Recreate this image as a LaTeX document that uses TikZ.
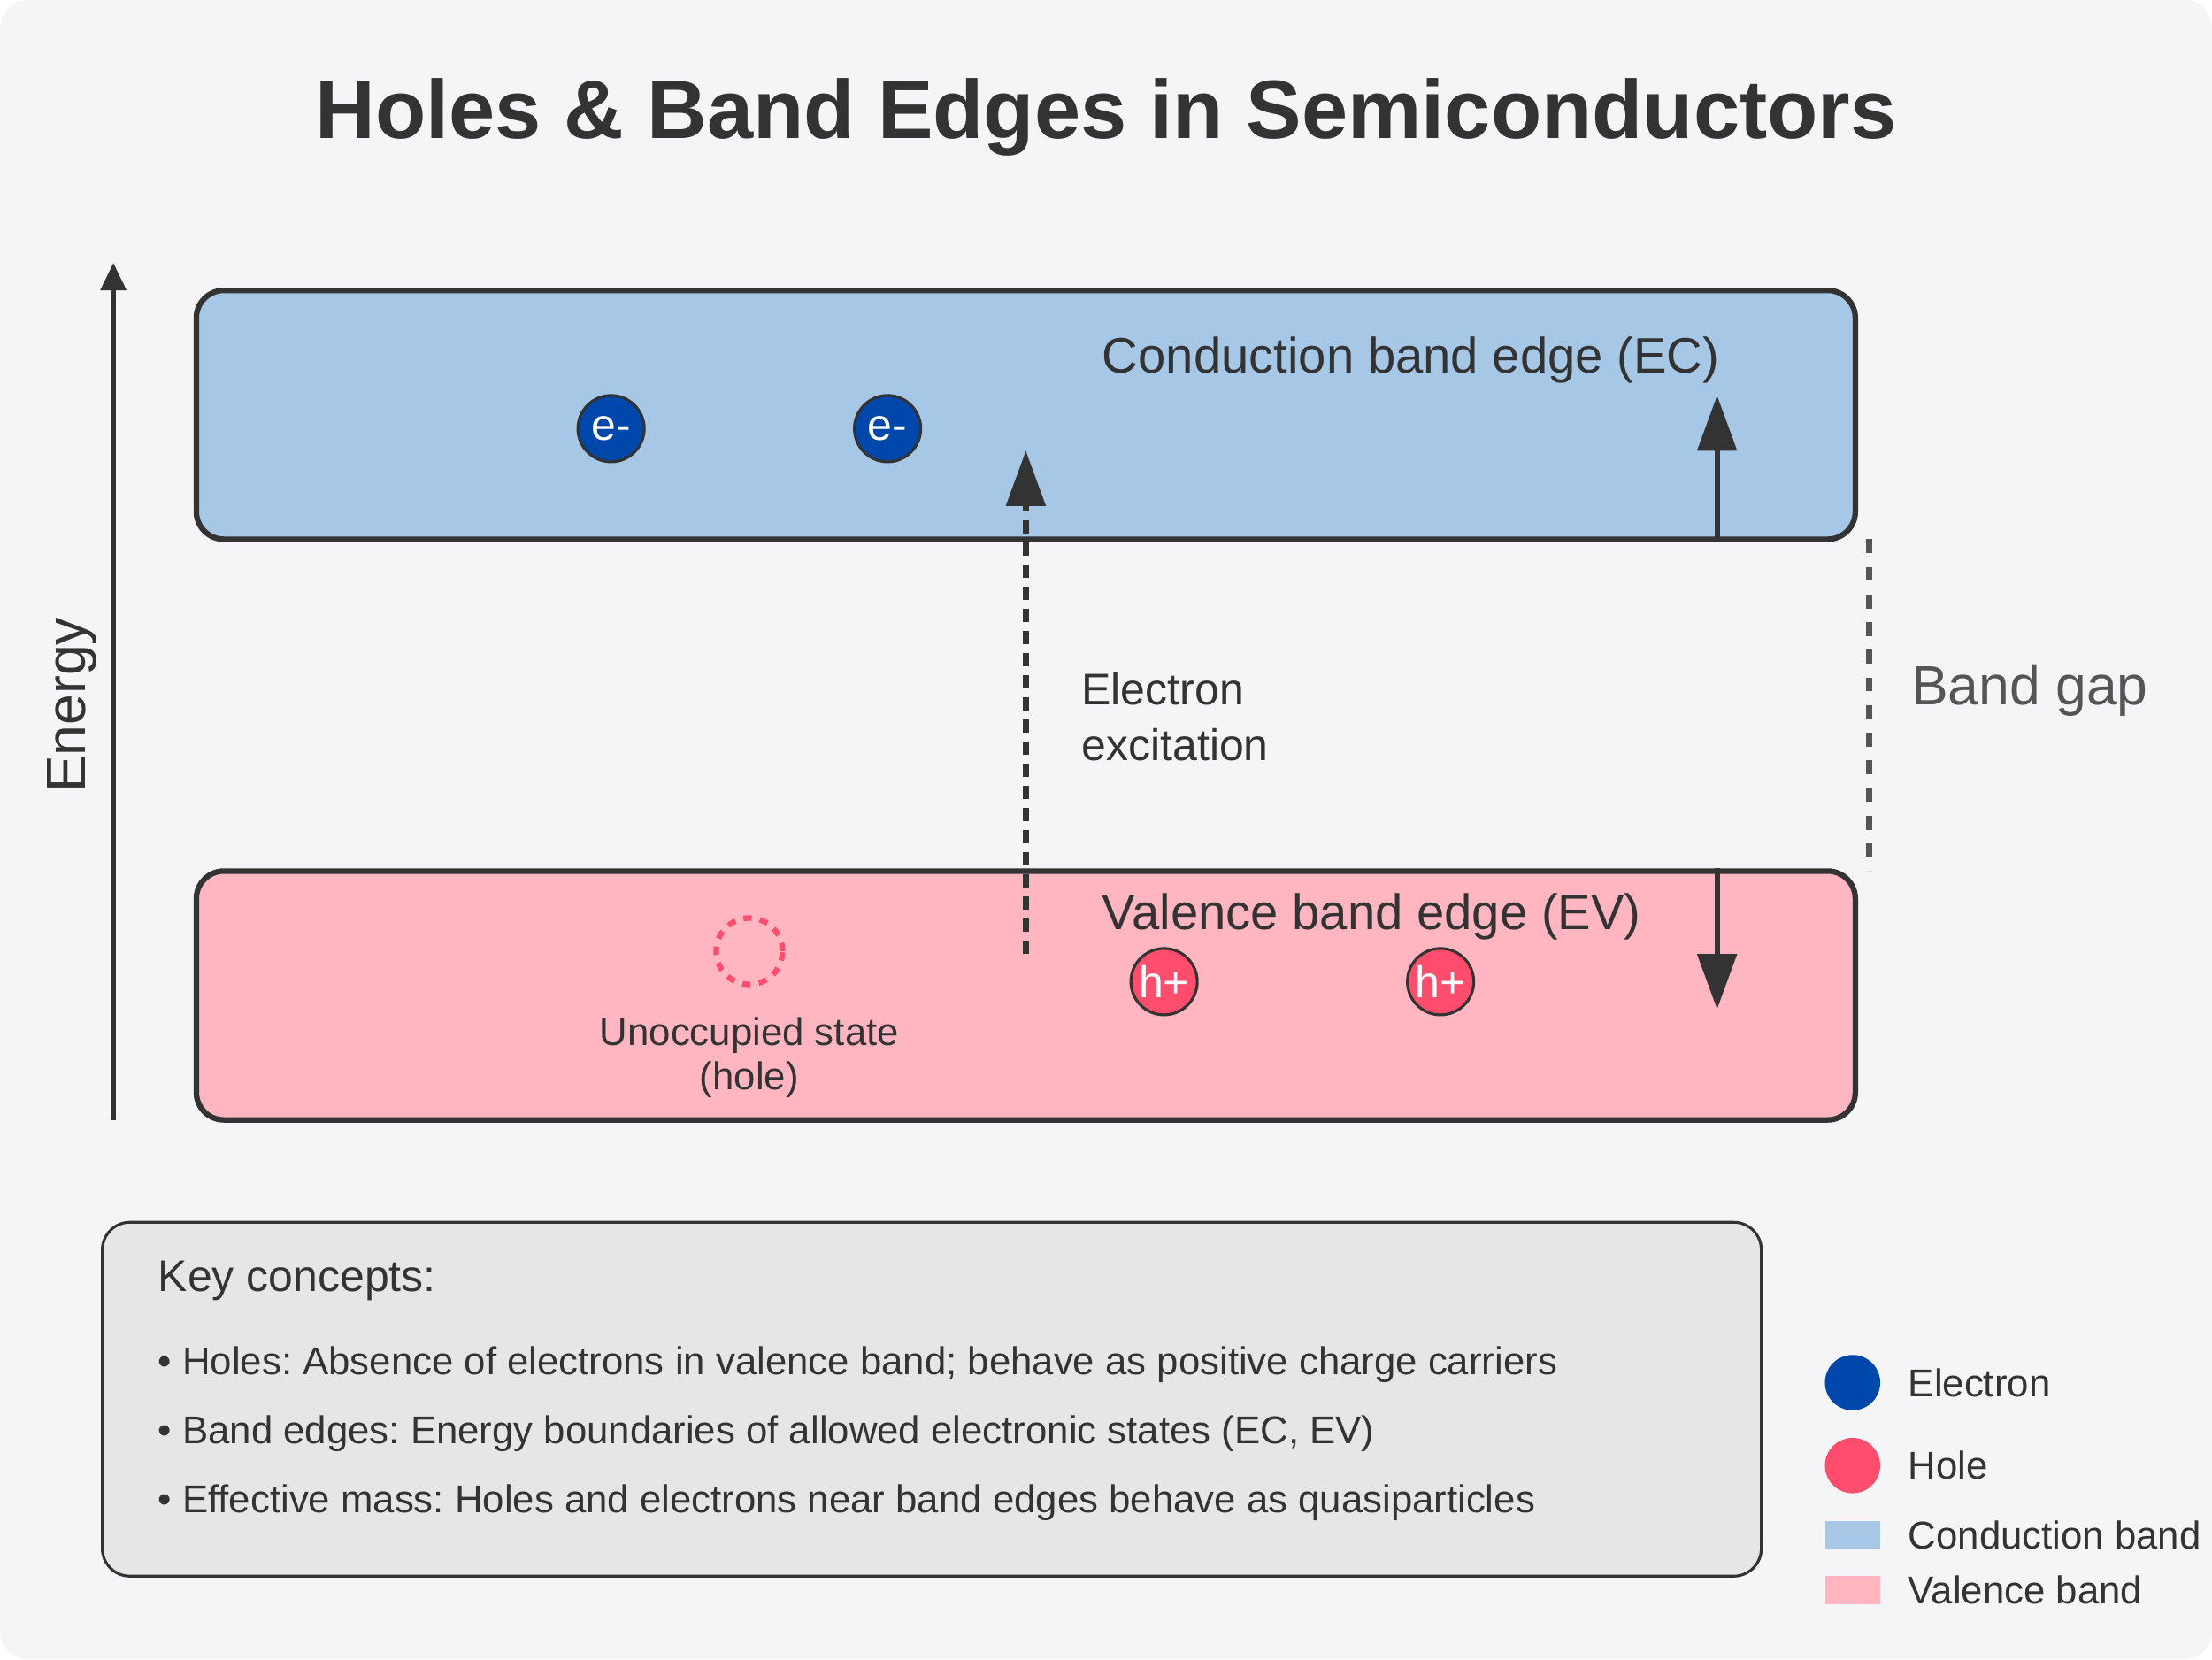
\documentclass[tikz,border=0pt]{standalone}
\usepackage{fontspec}
\setmainfont{Liberation Sans}
\usepackage{tikz}
\usetikzlibrary{arrows.meta, positioning}
\frenchspacing
\definecolor{ink}{HTML}{333333}
\definecolor{gapgray}{HTML}{555555}
\definecolor{pagebg}{HTML}{F5F5F7}
\definecolor{cbfill}{HTML}{A6C8E6}
\definecolor{vbfill}{HTML}{FFB6C1}
\definecolor{keyfill}{HTML}{E6E6E6}
\definecolor{electronblue}{HTML}{0047AB}
\definecolor{holered}{HTML}{FF4D6D}
\newcommand{\fsz}[2]{\fontsize{#1pt}{#2pt}\selectfont}
\tikzset{
  band/.style={
    draw=ink, line width=2pt, rounded corners=10pt,
    minimum width=600pt, minimum height=90pt, inner sep=0pt
  },
  band label/.style={anchor=base west, inner sep=0pt, text=ink, font=\fsz{18}{22}},
  plain text/.style={anchor=base west, inner sep=0pt, text=ink},
  carrier/.style={
    circle, draw=ink, line width=1pt, minimum size=24pt,
    inner sep=0pt, text=white, font=\fsz{16}{18}
  },
  electron/.style={carrier, fill=electronblue},
  hole/.style={carrier, fill=holered},
  big arrow/.style={draw=ink, line width=2pt, -{Triangle[length=20pt, width=14pt]}},
  legend dot/.style={circle, minimum size=20pt, inner sep=0pt},
  legend swatch/.style={minimum width=20pt, minimum height=10pt, inner sep=0pt},
}

\begin{document}
\begin{tikzpicture}[x=1pt, y=-1pt]
  % Page
  \useasboundingbox (0,0) rectangle (800,600);
  \fill[pagebg, rounded corners=10pt] (0,0) rectangle (800,600);

  % Title
  \node[anchor=base, inner sep=0pt, text=ink, font=\bfseries\fsz{30}{36}] (title) at (400,50)
    {Holes \& Band Edges in Semiconductors};

  % Energy axis
  \coordinate (eaxbot) at (41,405);
  \coordinate (eaxtop) at (41,95);
  \draw[ink, line width=2pt, -{Triangle[length=10pt, width=9pt]}] (eaxbot) -- (eaxtop);
  \node[rotate=90, anchor=base, inner sep=0pt, text=ink, font=\fsz{20}{24}] (energy) at (31,255) {Energy};

  % Bands
  \node[band, fill=cbfill] (cb) at (371,150) {};
  \node[band, fill=vbfill] (vb) at (371,360) {};
  \node[band label] (cblabel) at (398.5,135) {Conduction band edge (EC)};
  \node[band label] (vblabel) at (398.5,336) {Valence band edge (EV)};

  % Electrons
  \node[electron] (e1) at (221,155) {e-};
  \node[electron] (e2) at (321,155) {e-};

  % Holes
  \node[hole] (h1) at (421,355) {h+};
  \node[hole] (h2) at (521,355) {h+};

  % Unoccupied state
  \node[circle, draw=holered, line width=2pt, dash pattern=on 3pt off 3pt,
    minimum size=24pt, inner sep=0pt] (vacancy) at (271,344) {};
  \node[anchor=base, inner sep=0pt, text=ink, font=\fsz{14}{16}] (vaclabel) at (271,378) {Unoccupied state};
  \node[anchor=base, inner sep=0pt, text=ink, font=\fsz{14}{16}] (vaclabel2) at (271,394) {(hole)};

  % Electron excitation
  \coordinate (exstart) at (371,345);
  \coordinate (exend) at (371,163);
  \draw[big arrow, dash pattern=on 5pt off 3pt] (exstart) -- (exend);
  \node[plain text, font=\fsz{16}{20}] (exlabel) at (391,255) {Electron};
  \node[plain text, font=\fsz{16}{20}] (exlabel2) at (391,275) {excitation};

  % Band edge arrows
  \coordinate (ecup) at (621,143);
  \coordinate (evdown) at (621,365);
  \draw[big arrow] (cb.south -| ecup) -- (ecup);
  \draw[big arrow] (vb.north -| evdown) -- (evdown);

  % Band gap
  \coordinate (gaptop) at (676,195);
  \coordinate (gapbot) at (676,315);
  \draw[gapgray, line width=2pt, dash pattern=on 5pt off 5pt] (gaptop) -- (gapbot);
  \node[anchor=base west, inner sep=0pt, text=gapgray, font=\fsz{20}{24}] (gaplabel) at (691,255) {Band gap};

  % Key concepts
  \node[draw=ink, line width=1pt, fill=keyfill, rounded corners=10pt,
    minimum width=600pt, minimum height=128pt, inner sep=0pt] (keybox) at (337,506) {};
  \node[plain text, font=\fsz{16}{20}] (keytitle) at (57,467) {Key concepts:};
  \node[plain text, font=\fsz{14}{17}] (key1) at (57,497)
    {• Holes: Absence of electrons in valence band; behave as positive charge carriers};
  \node[plain text, font=\fsz{14}{17}] (key2) at (57,522)
    {• Band edges: Energy boundaries of allowed electronic states (EC, EV)};
  \node[plain text, font=\fsz{14}{17}] (key3) at (57,547)
    {• Effective mass: Holes and electrons near band edges behave as quasiparticles};

  % Legend
  \node[legend dot, fill=electronblue] (legel) at (670,500) {};
  \node[legend dot, fill=holered] (leghole) at (670,530) {};
  \node[legend swatch, fill=cbfill] (legcb) at (670,555) {};
  \node[legend swatch, fill=vbfill] (legvb) at (670,575) {};
  \node[plain text, font=\fsz{14}{17}] (legeltext) at (690,505) {Electron};
  \node[plain text, font=\fsz{14}{17}] (legholetext) at (690,535) {Hole};
  \node[plain text, font=\fsz{14}{17}] (legcbtext) at (690,560) {Conduction band};
  \node[plain text, font=\fsz{14}{17}] (legvbtext) at (690,580) {Valence band};

\end{tikzpicture}
\end{document}
